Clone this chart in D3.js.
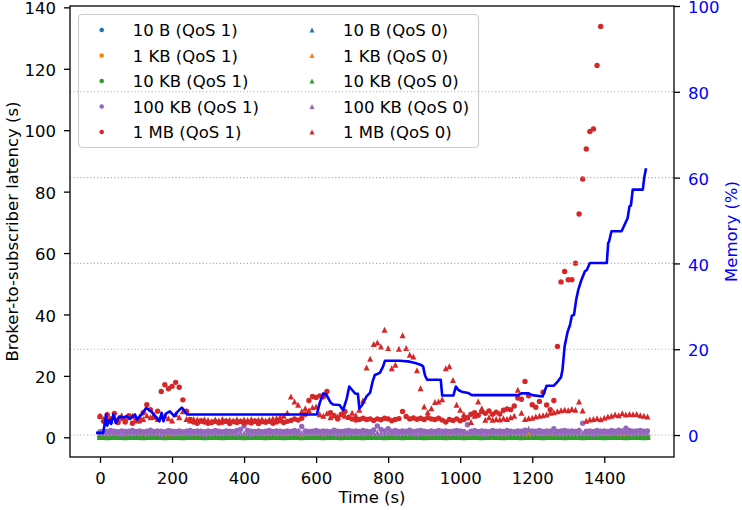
<!DOCTYPE html>
<html><head><meta charset="utf-8">
<script src="https://cdn.jsdelivr.net/npm/d3@7"></script>
<style>body{margin:0;background:#fff} svg{display:block} text{font-family:"DejaVu Sans",sans-serif}</style>
</head><body><svg id="c" width="742" height="510"></svg>
<script>
// ---------- DATA ----------
const times = [
0,10,20,30,40,50,60,70,80,90,
100,110,120,130,140,150,160,170,180,190,
200,210,220,230,240,250,260,270,280,290,
300,310,320,330,340,350,360,370,380,390,
400,410,420,430,440,450,460,470,480,490,
500,510,520,530,540,550,560,570,580,590,
600,610,620,630,640,650,660,670,680,690,
700,710,720,730,740,750,760,770,780,790,
800,810,820,830,840,850,860,870,880,890,
900,910,920,930,940,950,960,970,980,990,
1000,1010,1020,1030,1040,1050,1060,1070,1080,1090,
1100,1110,1120,1130,1140,1150,1160,1170,1180,1190,
1200,1210,1220,1230,1240,1250,1260,1270,1280,1290,
1300,1310,1320,1330,1340,1350,1360,1370,1380,1390,
1400,1410,1420,1430,1440,1450,1460,1470,1480,1490,
1500,1510,1520];

const b10Q1 = [
0.1,0.2,0.1,0.1,0.2,0.1,0.2,0.1,0.1,0.2,
0.1,0.1,0.2,0.1,0.2,0.1,0.1,0.2,0.1,0.1,
0.2,0.1,0.1,0.2,0.1,0.2,0.1,0.1,0.2,0.1,
0.1,0.2,0.1,0.2,0.1,0.1,0.2,0.1,0.1,0.2,
0.1,0.1,0.2,0.1,0.1,0.2,0.1,0.2,0.1,0.1,
0.2,0.1,0.1,0.2,0.1,0.1,0.2,0.1,0.2,0.1,
0.1,0.2,0.1,0.1,0.2,0.1,0.2,0.1,0.1,0.2,
0.1,0.1,0.2,0.1,0.2,0.1,0.1,0.2,0.1,0.1,
0.2,0.1,0.2,0.1,0.1,0.2,0.1,0.1,0.2,0.1,
0.1,0.2,0.1,0.1,0.2,0.1,0.2,0.1,0.1,0.2,
0.1,0.1,0.2,0.1,0.2,0.1,0.1,0.2,0.1,0.1,
0.2,0.1,0.1,0.2,0.1,0.2,0.1,0.1,0.2,0.1,
0.1,0.2,0.1,0.2,0.1,0.1,0.2,0.1,0.1,0.2,
0.1,0.1,0.2,0.1,0.1,0.2,0.1,0.2,0.1,0.1,
0.2,0.1,0.1,0.2,0.1,0.1,0.2,0.1,0.2,0.1,
0.1,0.2,0.1];
const kb1Q1 = [
0.2,0.3,0.2,0.1,0.3,0.2,0.2,0.3,0.1,0.2,
0.3,0.2,0.2,0.1,0.3,0.2,0.3,0.2,0.4,0.6,
0.7,0.5,0.3,0.2,0.2,0.3,0.1,0.2,0.3,0.2,
0.2,0.1,0.3,0.2,0.2,0.3,0.2,0.1,0.2,0.3,
0.2,0.2,0.3,0.1,0.2,0.2,0.3,0.2,0.2,0.1,
0.3,0.2,0.2,0.3,0.2,0.1,0.6,0.2,0.3,0.2,
0.2,0.3,0.1,0.2,0.2,0.3,0.2,0.2,0.1,0.3,
0.2,0.2,0.3,0.2,0.1,0.2,0.3,0.2,0.2,0.3,
0.1,0.2,0.2,0.3,0.2,0.2,0.1,0.3,0.2,0.2,
0.3,0.2,0.1,0.2,0.3,0.2,0.2,0.3,0.1,0.2,
0.2,0.3,0.2,0.2,0.1,0.3,0.2,0.2,0.3,0.2,
0.1,0.2,0.3,0.2,0.2,0.3,0.1,0.2,0.2,0.6,
0.3,0.2,0.2,0.1,0.3,0.2,0.6,0.2,0.3,0.2,
0.2,0.1,0.6,0.2,0.3,0.2,0.2,0.1,0.3,0.2,
0.2,0.3,0.2,0.1,0.2,0.6,0.3,0.2,0.2,0.3,
0.2,0.1,0.2];
const kb10Q1 = [
0.2,0.1,0.2,0.3,0.1,0.2,0.2,0.1,0.3,0.2,
0.1,0.2,0.2,0.3,0.1,0.2,0.1,0.2,0.3,0.2,
0.2,0.1,0.2,0.2,0.3,0.1,0.2,0.2,0.1,0.3,
0.2,0.2,0.1,0.2,0.3,0.2,0.1,0.2,0.2,0.1,
0.3,0.2,0.2,0.1,0.2,0.3,0.2,0.1,0.2,0.2,
0.1,0.3,0.2,0.2,0.1,0.2,0.2,0.3,0.1,0.2,
0.2,0.1,0.2,0.3,0.2,0.2,0.1,0.2,0.3,0.1,
0.2,0.2,0.1,0.2,0.3,0.2,0.2,0.1,0.2,0.2,
0.3,0.1,0.2,0.2,0.1,0.2,0.3,0.2,0.1,0.2,
0.2,0.3,0.1,0.2,0.2,0.1,0.2,0.3,0.2,0.2,
0.1,0.2,0.2,0.3,0.1,0.2,0.2,0.1,0.2,0.3,
0.2,0.1,0.2,0.2,0.3,0.1,0.2,0.2,0.1,0.2,
0.3,0.2,0.2,0.1,0.2,0.2,0.3,0.1,0.2,0.2,
0.1,0.2,0.3,0.2,0.2,0.1,0.2,0.2,0.3,0.1,
0.2,0.2,0.1,0.2,0.3,0.2,0.2,0.1,0.2,0.2,
0.3,0.1,0.2];
const kb100Q1 = [
1.8,2.1,1.9,2.2,2.0,1.8,2.1,1.9,2.0,2.2,
1.9,2.1,1.8,2.0,2.3,1.9,2.1,2.0,1.8,2.2,
2.0,1.9,2.1,1.8,2.0,2.2,1.9,2.1,2.0,1.8,
2.1,1.9,2.2,2.0,1.8,2.1,2.0,1.9,2.2,2.6,
3.7,2.2,2.0,1.9,2.1,1.8,2.0,2.2,1.9,2.1,
2.0,1.8,2.1,1.9,2.2,2.0,3.5,2.1,1.9,2.0,
2.2,1.9,2.1,2.0,1.8,2.3,2.0,1.9,2.1,2.2,
2.0,2.1,1.9,2.2,2.0,1.8,2.4,3.7,2.6,2.1,
2.8,2.0,2.2,1.9,2.1,2.0,2.3,1.9,2.1,2.2,
2.0,1.8,2.1,1.9,2.2,2.0,2.1,1.9,2.0,2.2,
2.1,1.9,4.1,2.0,2.2,1.9,2.1,2.0,1.8,2.2,
2.0,2.1,1.9,2.2,2.0,1.8,2.1,2.0,2.3,1.9,
2.1,2.0,2.2,1.9,2.1,2.0,2.8,1.9,2.1,2.2,
2.0,2.1,1.9,2.2,4.6,2.0,2.1,1.9,2.2,2.0,
2.1,1.9,2.2,2.0,2.3,2.1,3.0,2.2,2.0,2.1,
2.2,2.0,2.1];
const mb1Q1 = [
6.8,5.2,7.4,6.0,7.8,4.8,6.2,5.0,7.0,4.6,
6.0,5.3,8.0,10.6,9.0,6.5,8.5,14.9,17.1,15.8,
16.6,17.9,16.3,12.2,8.5,5.8,5.0,4.6,5.4,5.0,
4.6,4.8,5.2,4.7,4.9,5.3,4.5,5.1,4.8,5.2,
4.6,5.0,4.7,5.3,4.5,5.1,4.9,5.2,4.6,5.0,
5.4,4.8,5.2,5.5,6.0,5.6,6.2,7.5,12.0,13.3,
13.0,13.5,13.2,14.9,8.0,7.0,6.0,7.5,8.4,6.5,
6.0,5.6,5.8,6.2,5.8,6.0,5.5,6.0,5.7,6.2,
6.0,5.4,5.8,6.1,8.4,6.8,6.0,6.3,5.9,6.2,
5.8,6.4,6.0,5.8,6.2,5.6,5.0,5.8,5.5,6.0,
5.4,5.8,6.4,7.5,8.0,7.2,8.4,7.8,8.6,7.5,
8.2,7.6,8.8,9.2,9.0,10.2,12.8,12.4,18.2,13.5,
10.6,9.8,11.7,14.7,10.5,9.0,12.0,29.6,50.6,54.0,
51.3,51.3,56.7,72.7,84.1,93.9,99.6,100.4,121.1,133.8,
null,null,null,null,null,null,null,null,null,null,
null,null,null];

const b10Q0 = [
0.1,0.1,0.2,0.1,0.1,0.2,0.1,0.1,0.2,0.1,
0.2,0.1,0.1,0.2,0.1,0.1,0.2,0.1,0.1,0.2,
0.1,0.2,0.1,0.1,0.2,0.1,0.1,0.2,0.1,0.2,
0.1,0.1,0.2,0.1,0.1,0.2,0.1,0.2,0.1,0.1,
0.2,0.1,0.1,0.2,0.1,0.1,0.2,0.1,0.1,0.2,
0.1,0.2,0.1,0.1,0.2,0.1,0.1,0.2,0.1,0.1,
0.2,0.1,0.1,0.2,0.1,0.2,0.1,0.1,0.2,0.1,
0.1,0.2,0.1,0.1,0.2,0.1,0.1,0.2,0.1,0.2,
0.1,0.1,0.2,0.1,0.1,0.2,0.1,0.1,0.2,0.1,
0.2,0.1,0.1,0.2,0.1,0.1,0.2,0.1,0.2,0.1,
0.1,0.2,0.1,0.1,0.2,0.1,0.1,0.2,0.1,0.1,
0.2,0.1,0.2,0.1,0.1,0.2,0.1,0.1,0.2,0.1,
0.1,0.2,0.1,0.1,0.2,0.1,0.2,0.1,0.1,0.2,
0.1,0.1,0.2,0.1,0.1,0.2,0.1,0.1,0.2,0.1,
0.2,0.1,0.1,0.2,0.1,0.1,0.2,0.1,0.1,0.2,
0.1,0.2,0.1];
const kb1Q0 = [
0.1,0.2,0.1,0.2,0.1,0.1,0.2,0.1,0.2,0.1,
0.1,0.2,0.1,0.1,0.2,0.1,0.2,0.3,0.5,0.8,
0.6,0.4,0.2,0.1,0.2,0.1,0.1,0.2,0.1,0.2,
0.1,0.1,0.2,0.1,0.2,0.1,0.1,0.2,0.1,0.1,
0.2,0.1,0.2,0.1,0.1,0.2,0.1,0.1,0.2,0.1,
0.2,0.1,0.1,0.2,0.1,0.3,0.7,0.2,0.1,0.2,
0.1,0.1,0.2,0.1,0.2,0.1,0.1,0.2,0.1,0.1,
0.2,0.1,0.2,0.1,0.1,0.2,0.1,0.1,0.2,0.1,
0.1,0.2,0.1,0.2,0.1,0.1,0.2,0.1,0.1,0.2,
0.1,0.2,0.1,0.1,0.2,0.1,0.1,0.2,0.1,0.2,
0.1,0.1,0.2,0.1,0.1,0.2,0.1,0.2,0.1,0.1,
0.2,0.1,0.1,0.2,0.1,0.1,0.2,0.1,0.3,0.8,
0.2,0.1,0.1,0.2,0.1,0.2,0.7,0.1,0.2,0.1,
0.1,0.2,0.7,0.1,0.2,0.1,0.1,0.2,0.1,0.2,
0.1,0.1,0.2,0.1,0.1,0.7,0.2,0.1,0.2,0.1,
0.1,0.2,0.1];
const kb10Q0 = [
0.1,0.1,0.0,0.1,0.2,0.1,0.1,0.0,0.1,0.1,
0.2,0.1,0.0,0.1,0.1,0.2,0.1,0.1,0.0,0.1,
0.1,0.2,0.1,0.0,0.1,0.1,0.2,0.1,0.1,0.0,
0.1,0.1,0.2,0.1,0.0,0.1,0.1,0.2,0.1,0.1,
0.0,0.1,0.1,0.2,0.1,0.1,0.0,0.1,0.2,0.1,
0.1,0.0,0.1,0.1,0.2,0.1,0.0,0.1,0.1,0.2,
0.1,0.1,0.0,0.1,0.1,0.2,0.1,0.0,0.1,0.1,
0.2,0.1,0.1,0.0,0.1,0.1,0.2,0.1,0.1,0.0,
0.1,0.1,0.2,0.1,0.0,0.1,0.1,0.2,0.1,0.1,
0.0,0.1,0.1,0.2,0.1,0.1,0.0,0.1,0.2,0.1,
0.1,0.0,0.1,0.1,0.2,0.1,0.0,0.1,0.1,0.2,
0.1,0.1,0.0,0.1,0.1,0.2,0.1,0.0,0.1,0.1,
0.2,0.1,0.1,0.0,0.1,0.1,0.2,0.1,0.1,0.0,
0.1,0.1,0.2,0.1,0.0,0.1,0.1,0.2,0.1,0.1,
0.0,0.1,0.1,0.2,0.1,0.1,0.0,0.1,0.2,0.1,
0.1,0.0,0.1];
const kb100Q0 = [
1.4,1.6,1.3,1.5,1.7,1.4,1.2,1.5,1.6,1.3,
1.5,1.4,1.7,1.3,1.6,1.4,1.5,1.2,1.6,1.4,
1.3,1.5,1.6,1.4,1.7,1.3,1.5,1.4,1.6,1.2,
1.5,1.4,1.6,1.3,1.5,1.7,1.4,1.6,1.3,1.5,
1.4,1.6,1.2,1.5,1.4,1.7,1.3,1.5,1.6,1.4,
1.5,1.3,1.6,1.4,1.7,1.5,1.3,1.4,1.6,1.5,
1.4,1.6,1.3,1.5,1.7,1.4,1.2,1.6,1.5,1.3,
1.5,1.4,1.6,1.3,1.5,1.7,1.4,1.6,1.3,1.5,
1.4,1.6,1.5,1.3,1.7,1.4,1.5,1.6,1.2,1.5,
1.4,1.6,1.3,1.5,1.4,1.7,1.5,1.3,1.6,1.4,
1.5,1.3,1.6,1.4,1.7,1.5,1.4,1.2,1.6,1.5,
1.4,1.6,1.3,1.5,1.7,1.4,1.6,1.3,1.5,2.8,
1.4,1.6,1.5,1.3,1.7,1.4,1.5,1.6,1.3,1.5,
1.4,1.6,1.7,1.3,1.5,1.4,1.6,1.2,1.5,1.4,
1.6,1.3,1.5,1.7,1.4,1.6,1.8,1.5,1.3,1.4,
1.6,1.5,1.4];
const mb1Q0 = [
7.0,6.0,7.5,5.5,6.8,5.8,7.2,6.0,6.5,7.0,
5.5,6.8,6.0,7.2,6.5,7.5,6.0,6.8,7.0,6.2,
5.5,7.5,6.5,8.5,6.0,5.5,6.0,5.8,5.4,5.9,
5.6,5.3,5.8,5.5,6.0,5.4,5.7,5.5,5.9,5.3,
5.8,5.6,6.0,5.4,5.7,5.9,5.5,5.8,6.1,6.3,
6.6,7.0,8.0,13.3,11.7,10.6,8.5,9.5,8.8,9.8,
10.0,7.5,7.0,7.8,6.5,7.2,6.8,7.5,7.0,6.6,
8.0,7.2,9.0,12.0,22.7,25.6,30.4,30.9,29.6,35.0,
29.1,22.5,23.6,28.8,33.2,29.1,26.9,26.3,21.8,16.0,
10.0,8.2,9.5,11.5,11.7,12.4,22.5,23.1,18.7,10.6,
9.0,7.5,6.5,5.0,7.0,11.7,9.5,5.7,6.5,5.7,
6.0,5.8,6.2,6.0,6.5,7.0,15.5,8.0,6.0,6.2,
6.4,6.8,7.0,7.2,7.4,8.0,8.2,8.5,8.8,9.0,
8.8,9.2,9.0,11.7,8.7,5.4,5.8,6.0,6.2,5.9,
6.4,6.8,7.0,7.4,7.2,7.8,7.4,7.6,7.5,7.6,
7.2,7.0,6.8];

const memTimes = [-11,9,17,20,26,31,37,44,53,65,74,83,97,103,120,128,142,153,165,171,176,183,194,206,216,227,236,242,
602,610,620,628,640,647,665,675,685,692,700,708,716,720,728,740,750,757,763,777,786,791,833,860,875,890,897,902,908,946,950,981,988,995,1004,1022,1032,1161,1170,1190,1200,1229,1240,1260,1268,1280,1284,1290,1298,1305,1310,1316,1322,1328,1336,1346,1352,1360,1407,1411,1413,1420,1448,1452,1465,1470,1474,1479,1507,1511,1516];
const memValues = [0.5,0.5,4.8,2.2,3.5,2.6,4.8,2.8,4.3,4.1,4.4,3.8,4.8,3.6,5.3,6.3,5.5,4.4,3.2,5.2,3.2,5.0,5.5,4.4,5.5,6.4,5.5,4.8,
4.8,7.5,9.7,9.5,7.6,7.1,7.0,5.8,8.5,11.3,10.5,9.7,9.6,6.2,7.0,9.0,9.9,12.5,14.0,14.5,16.0,17.3,17.3,17.1,16.8,16.4,16.0,14.0,12.9,12.9,9.2,9.2,11.3,10.5,10.1,9.8,9.3,9.3,9.7,9.7,9.3,9.0,11.5,11.5,12.2,13.5,15.2,20.7,24.0,25.7,27.8,28.0,31.5,33.9,36.0,38.1,38.5,40.1,40.1,44.8,45.0,47.5,47.5,48.2,50.6,53.3,53.5,57.2,57.2,60.0,62.2];

const seriesLabels = ["10 B (QoS 1)","1 KB (QoS 1)","10 KB (QoS 1)","100 KB (QoS 1)","1 MB (QoS 1)",
                      "10 B (QoS 0)","1 KB (QoS 0)","10 KB (QoS 0)","100 KB (QoS 0)","1 MB (QoS 0)"];
const seriesValues = [b10Q1,kb1Q1,kb10Q1,kb100Q1,mb1Q1,b10Q0,kb1Q0,kb10Q0,kb100Q0,mb1Q0];
const seriesMarkers = ["circle","circle","circle","circle","circle","triangle","triangle","triangle","triangle","triangle"];
const seriesColors = ["#1f77b4","#ff7f0e","#2ca02c","#9467bd","#d62728","#1f77b4","#ff7f0e","#2ca02c","#9467bd","#d62728"];
const xTicks = [0,200,400,600,800,1000,1200,1400];
const yLeftTicks = [0,20,40,60,80,100,120,140];
const yRightTicks = [0,20,40,60,80,100];

// ---------- LAYOUT ----------
const X0=70, X1=674, Y0=6, Y1=457;
const FS = 16.5;
const svg = d3.select("#c");
const x = d3.scaleLinear().domain([-83.3,1593.6]).range([X0,X1]);
const yL = d3.scaleLinear().domain([-6.41,140.44]).range([Y1,Y0]);
const yR = d3.scaleLinear().domain([-5.12,100]).range([Y1,Y0]);

function markerPath(type, s){
  if(type==="circle"){ const r=s/2; return `M${r},0A${r},${r} 0 1,1 ${-r},0A${r},${r} 0 1,1 ${r},0Z`; }
  const h=s/2; return `M0,${-h}L${h},${h}L${-h},${h}Z`;
}

// scatter (ax1)
const gS = svg.append("g");
seriesValues.forEach((vals,si)=>{
  const pts = times.map((t,i)=>({t, v: vals[i]})).filter(d=>d.v!==null);
  const sz = seriesMarkers[si]==="circle" ? 5.4 : 6.0;
  gS.append("g").selectAll("path").data(pts).join("path")
    .attr("d", markerPath(seriesMarkers[si], sz))
    .attr("transform", d=>`translate(${x(d.t)},${yL(d.v)})`)
    .attr("fill", seriesColors[si]);
});

// legend (ax1)
const lg = svg.append("g");
lg.append("rect").attr("x",78.5).attr("y",14.5).attr("width",400).attr("height",133).attr("rx",4)
  .attr("fill","#fff").attr("fill-opacity",0.8).attr("stroke","#cccccc").attr("stroke-width",1.2);
seriesLabels.forEach((lab,i)=>{
  const col = Math.floor(i/5), row = i%5;
  const mx = col===0 ? 101.7 : 312, tx = col===0 ? 132.7 : 343;
  const cy = 30 + row*25.5;
  lg.append("path").attr("d", markerPath(seriesMarkers[i], seriesMarkers[i]==="circle"?4.6:5.0))
    .attr("transform",`translate(${mx},${cy})`).attr("fill",seriesColors[i]);
  lg.append("text").attr("x",tx).attr("y",cy+6).attr("font-size",FS).attr("fill","#000").text(lab);
});

// ax2: grid + memory line
const gG = svg.append("g");
gG.selectAll("line").data(yRightTicks.filter(v=>v<100)).join("line")
  .attr("x1",X0).attr("x2",X1).attr("y1",d=>yR(d)).attr("y2",d=>yR(d))
  .attr("stroke","#b0b0b0").attr("stroke-width",1.1).attr("stroke-dasharray","1.2,2.2");
const memPts = memTimes.map((t,i)=>[t, memValues[i]]);
svg.append("path").datum(memPts)
  .attr("d", d3.line().x(d=>x(d[0])).y(d=>yR(d[1])))
  .attr("fill","none").attr("stroke","#0000ff").attr("stroke-width",2.6).attr("stroke-linejoin","round");

// spines
svg.append("rect").attr("x",X0).attr("y",Y0).attr("width",X1-X0).attr("height",Y1-Y0)
  .attr("fill","none").attr("stroke","#000").attr("stroke-width",1.3);

// axes
function styleAxis(g, color){
  g.select(".domain").remove();
  g.selectAll(".tick line").attr("stroke","#000").attr("stroke-width",1.3);
  g.selectAll(".tick text").attr("font-size",FS).attr("fill",color).attr("font-family","DejaVu Sans, sans-serif");
}
const axB = svg.append("g").attr("transform",`translate(0,${Y1})`)
  .call(d3.axisBottom(x).tickValues(xTicks).tickFormat(d3.format("d")).tickSize(6).tickPadding(8));
styleAxis(axB,"#000");
axB.selectAll(".tick text").attr("dy","0.78em");
const axL = svg.append("g").attr("transform",`translate(${X0},0)`)
  .call(d3.axisLeft(yL).tickValues(yLeftTicks).tickFormat(d3.format("d")).tickSize(6).tickPadding(8));
styleAxis(axL,"#000");
axL.selectAll(".tick text").attr("dy","0.4em");
const axR = svg.append("g").attr("transform",`translate(${X1},0)`)
  .call(d3.axisRight(yR).tickValues(yRightTicks).tickFormat(d3.format("d")).tickSize(6).tickPadding(8));
styleAxis(axR,"#0000ff");
axR.selectAll(".tick text").attr("dy","0.4em");

// axis labels
svg.append("text").attr("x",(X0+X1)/2).attr("y",503).attr("text-anchor","middle")
  .attr("font-size",FS).attr("fill","#000").text("Time (s)");
svg.append("text").attr("transform",`translate(18,${(Y0+Y1)/2}) rotate(-90)`).attr("text-anchor","middle")
  .attr("font-size",FS).attr("fill","#000").text("Broker-to-subscriber latency (s)");
svg.append("text").attr("transform",`translate(737,${(Y0+Y1)/2}) rotate(-90)`).attr("text-anchor","middle")
  .attr("font-size",FS).attr("fill","#0000ff").text("Memory (%)");
</script></body></html>
